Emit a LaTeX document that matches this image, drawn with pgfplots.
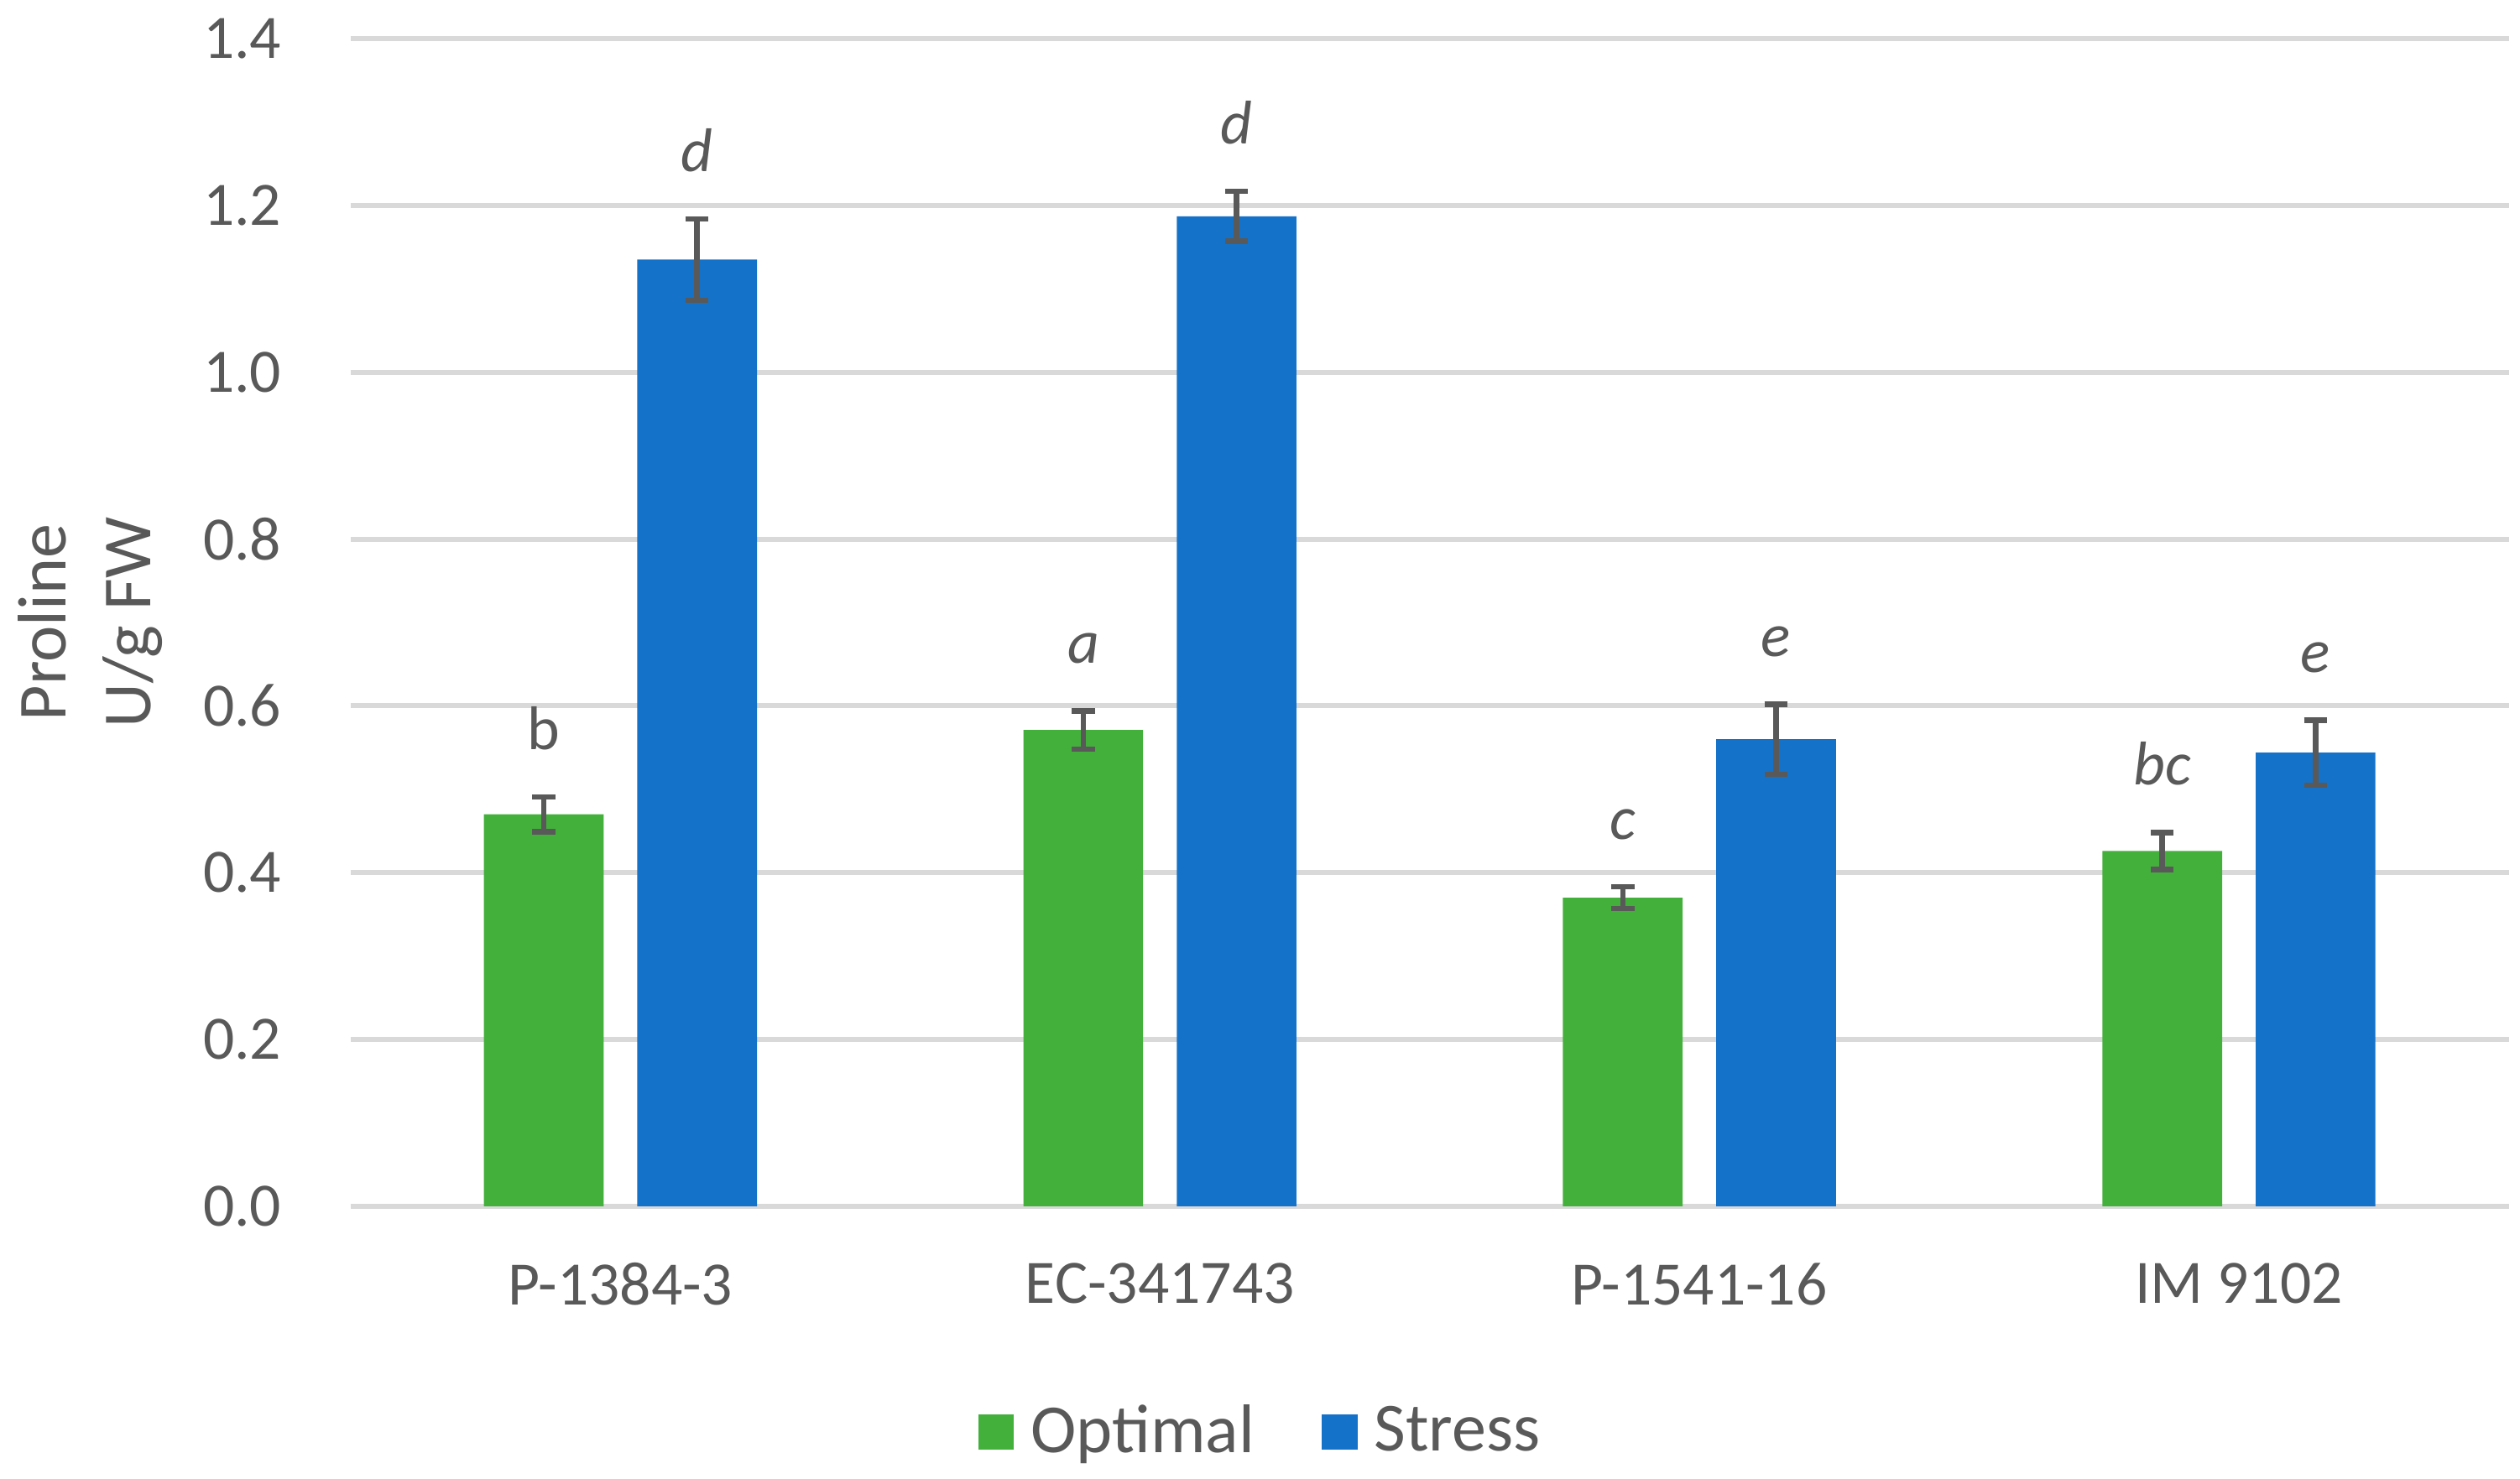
\documentclass[border=0pt]{standalone}
\usepackage{fontspec}
\setmainfont{Carlito}
\usepackage{pgfplots}
\pgfplotsset{compat=1.18}
\definecolor{optgreen}{RGB}{67,176,60}
\definecolor{strblue}{RGB}{21,114,201}
\definecolor{txtgray}{RGB}{89,89,89}
\definecolor{gridgray}{RGB}{217,217,217}
\begin{document}
\begin{tikzpicture}
\begin{axis}[
  at={(0,0)}, anchor=south west,
  scale only axis, width=513.8pt, height=278.1pt,
  ybar, bar width=28.5pt,
  xmin=-0.5, xmax=3.5, ymin=0, ymax=1.4,
  xtick={0,1,2,3}, xticklabels={P-1384-3,EC-341743,P-1541-16,IM 9102},
  ytick={0,0.2,0.4,0.6,0.8,1.0,1.2,1.4},
  major tick length=0pt,
  axis line style={draw=none},
  ymajorgrids, grid style={gridgray, line width=1.2pt},
  tick label style={font=\fontsize{14.7}{17}\selectfont, text=txtgray},
  y tick label style={xshift=-13pt},
  yticklabel style={/pgf/number format/fixed, /pgf/number format/fixed zerofill, /pgf/number format/precision=1, /pgf/number format/assume math mode=true},
  x tick label style={yshift=-10pt},
  ylabel={Proline\\U/g FW},
  ylabel style={align=center, font=\fontsize{16.4}{20}\selectfont, text=txtgray, at={(axis description cs:-0.1207,0.5)}, anchor=center},
  legend style={at={(axis description cs:0.423,-0.193)}, anchor=center, draw=none, fill=none, legend columns=2, font=\fontsize{16.4}{20}\selectfont, text=txtgray, /tikz/every odd column/.append style={column sep=2pt}, /tikz/every even column/.append style={column sep=14pt}},
  legend image code/.code={\fill[#1] (0pt,-4.2pt) rectangle (8.5pt,4.2pt);},
]
\addplot[fill=optgreen, draw=none, bar shift=-18.25pt,
  error bars/.cd, y dir=both, y explicit,
  error bar style={line width=1.3pt, txtgray},
  error mark options={rotate=90, mark size=2.75pt, line width=1.3pt, txtgray}]
  coordinates {(0,0.470) +- (0,0.021) (1,0.571) +- (0,0.023) (2,0.370) +- (0,0.013) (3,0.426) +- (0,0.022)};
\addlegendentry{Optimal}
\addplot[fill=strblue, draw=none, bar shift=18.25pt,
  error bars/.cd, y dir=both, y explicit,
  error bar style={line width=1.3pt, txtgray},
  error mark options={rotate=90, mark size=2.75pt, line width=1.3pt, txtgray}]
  coordinates {(0,1.135) +- (0,0.049) (1,1.187) +- (0,0.030) (2,0.560) +- (0,0.042) (3,0.544) +- (0,0.039)};
\addlegendentry{Stress}
\addplot[draw=none, fill=none, bar shift=-18.25pt, forget plot,
  nodes near coords, point meta=explicit symbolic,
  nodes near coords style={font=\fontsize{14.7}{17}\selectfont, text=txtgray, inner sep=0pt, anchor=south, yshift=11pt}]
  coordinates {(0,0.491)[b] (1,0.594)[\textit{a}] (2,0.383)[\textit{c}] (3,0.448)[\textit{bc}]};
\addplot[draw=none, fill=none, bar shift=18.25pt, forget plot,
  nodes near coords, point meta=explicit symbolic,
  nodes near coords style={font=\fontsize{14.7}{17}\selectfont, text=txtgray, inner sep=0pt, anchor=south, yshift=11pt}]
  coordinates {(0,1.184)[\textit{d}] (1,1.217)[\textit{d}] (2,0.602)[\textit{e}] (3,0.583)[\textit{e}]};
\end{axis}
\pgfresetboundingbox
\path[use as bounding box] (-83.5pt,-64.9pt) rectangle (516.5pt,287.3pt);
\end{tikzpicture}
\end{document}
